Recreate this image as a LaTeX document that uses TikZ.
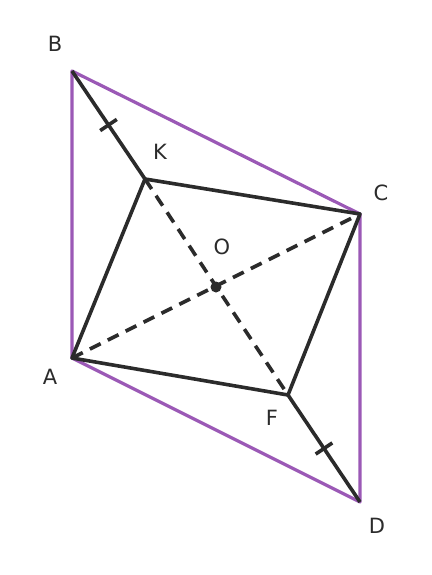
\documentclass[tikz,border=0pt]{standalone}
\usepackage{fontspec}
\setmainfont{DejaVu Sans}
\usetikzlibrary{calc}
\definecolor{amethyst}{HTML}{9B59B6}
\definecolor{ink}{HTML}{2B2B2B}
\tikzset{
	lbl/.style={font=\fontsize{21}{25}\selectfont, text=ink, inner sep=0pt},
	side/.style={amethyst, line width=3.2pt},
	seg/.style={ink, line width=3.6pt},
	diag/.style={ink, line width=3.6pt, dash pattern=on 12pt off 8pt}
}

\begin{document}
\begin{tikzpicture}[x=1pt, y=-1pt, line join=round]
	\useasboundingbox (0,0) rectangle (431,575);
	% points
	\coordinate (B) at (72,71);
	\coordinate (C) at (360,214);
	\coordinate (D) at (360,502);
	\coordinate (A) at (72,358);
	\coordinate (K) at (145,179);
	\coordinate (F) at (288,395);
	\coordinate (O) at (216,287);
	% outer parallelogram
	\draw[side] (A) -- (B) -- (C) -- (D) -- cycle;
	% inner quadrilateral
	\draw[seg] (A) -- (K) -- (C) -- (F) -- cycle;
	\draw[seg] (B) -- (K);
	\draw[seg] (F) -- (D);
	\draw[diag] (K) -- (F);
	\draw[diag] (A) -- (C);
	% equal marks
	\draw[seg] ($($(B)!.5!(K)$)!10pt!90:(K)$) -- ($($(B)!.5!(K)$)!10pt!-90:(K)$);
	\draw[seg] ($($(F)!.5!(D)$)!10pt!90:(D)$) -- ($($(F)!.5!(D)$)!10pt!-90:(D)$);
	\fill[ink] (O) circle (5.5pt);
	% labels
	\node[lbl] (lB) at (55,44) {B};
	\node[lbl] (lK) at (160,152) {K};
	\node[lbl] (lC) at (381,193) {C};
	\node[lbl] (lO) at (222,247) {O};
	\node[lbl] (lA) at (50,377) {A};
	\node[lbl] (lF) at (272,418) {F};
	\node[lbl] (lD) at (377,526) {D};
\end{tikzpicture}
\end{document}
